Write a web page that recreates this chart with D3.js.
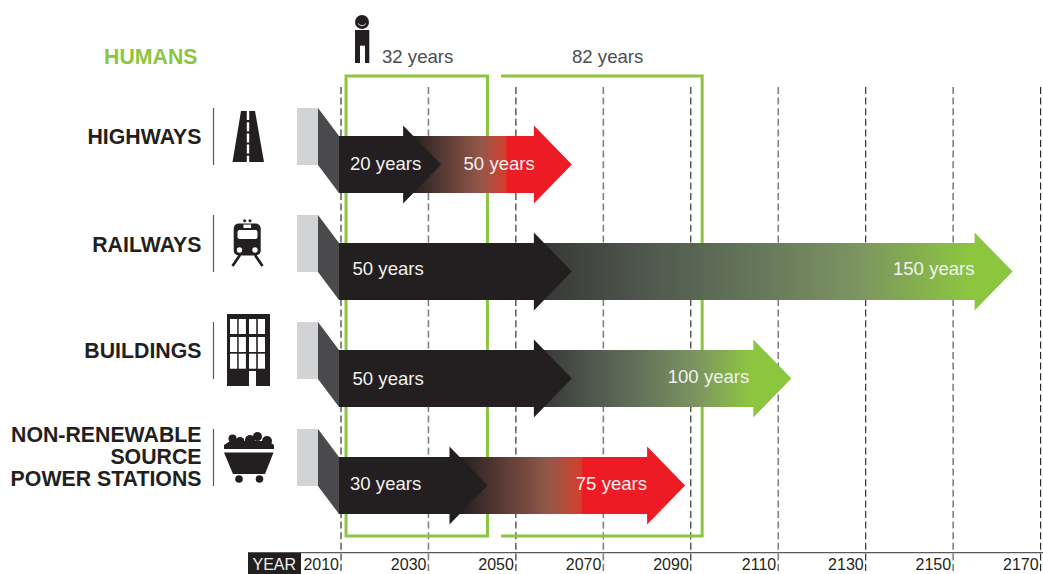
<!DOCTYPE html>
<html><head><meta charset="utf-8">
<script src="https://cdn.jsdelivr.net/npm/d3@7/dist/d3.min.js"></script>
<style>html,body{margin:0;padding:0;background:#fff}svg{display:block}text{font-family:"Liberation Sans",Arial,sans-serif}</style>
</head><body><div id="c"></div>
<script>
// ---- data ----
const categories = ["HIGHWAYS","RAILWAYS","BUILDINGS","NON-RENEWABLE"];
const shortLife = [20,50,50,30];            // labelled years, dark arrow
const longLife  = [50,150,100,75];          // labelled years, coloured arrow
const shortTipYear = [2032.9,2062.8,2062.8,2043.5];
const longTipYear  = [2062.8,2163.6,2113,2088.7];
const fadeEndYear  = [2048,2154,2103.8,2065.3];
const fadeStartYear= [2026,2052,2054,2037];
const tipColors = ["#ed1c24","#8cc63f","#8cc63f","#ed1c24"];
const axisYears = [2010,2030,2050,2070,2090,2110,2130,2150,2170];
const humanSpans = [{label:"32 years",from:2011.15,to:2043.5},{label:"82 years",from:2046.6,to:2092.6}];
// ---- layout ----
const W=1043,H=574,black="#231f20",green="#8cc63f";
const x=d3.scaleLinear().domain([2010,2170]).range([341,1040.6]);
const y=d3.scalePoint().domain(categories).range([164.5,485.5]);
const svg=d3.select("#c").append("svg").attr("width",W).attr("height",H).attr("viewBox",`0 0 ${W} ${H}`);
const defs=svg.append("defs");

// grid
svg.append("g").selectAll("line").data(axisYears).join("line")
 .attr("x1",d=>x(d)).attr("x2",d=>x(d)).attr("y1",87).attr("y2",574)
 .attr("stroke",(d,i)=>i%2?"#808285":black)
 .attr("stroke-width",(d,i)=>i%2?1.6:1.1)
 .attr("stroke-dasharray","7 3.6");

// human frames
const fTop=76,fBot=536;
svg.append("path").attr("fill","none").attr("stroke",green).attr("stroke-width",3)
 .attr("d",`M${x(humanSpans[0].from)},${fTop}H${x(humanSpans[0].to)}V${fBot}H${x(humanSpans[0].from)}Z`);
svg.append("path").attr("fill","none").attr("stroke",green).attr("stroke-width",3)
 .attr("d",`M${x(humanSpans[1].from)},${fTop}H${x(humanSpans[1].to)}V${fBot}H${x(humanSpans[1].from)}`);
svg.append("g").selectAll("text").data(humanSpans).join("text")
 .attr("x",(d,i)=>[382,572][i]).attr("y",63).attr("font-size",18.6).attr("fill","#4d4d4f").text(d=>d.label);
svg.append("text").attr("x",197.5).attr("y",64).attr("text-anchor","end").attr("font-size",21.3).attr("font-weight","bold").attr("fill",green).text("HUMANS");

// arrows
const bodyStart=339,headLen=38,bodyHalf=28.5,headHalf=39;
const arrow=(cy,tip)=>`M${bodyStart},${cy-bodyHalf}H${tip-headLen}V${cy-headHalf}L${tip},${cy}L${tip-headLen},${cy+headHalf}V${cy+bodyHalf}H${bodyStart}Z`;
categories.forEach((c,i)=>{
  const cy=y(c),top=cy-56.5;
  const g=svg.append("g");
  g.append("rect").attr("x",297).attr("y",top).attr("width",21).attr("height",57).attr("fill","#d1d3d4");
  g.append("path").attr("fill","#4a4a4c").attr("d",`M318,${top}L${bodyStart},${cy-bodyHalf}V${cy+bodyHalf}L318,${top+57}Z`);
  const grad=defs.append("linearGradient").attr("id","g"+i).attr("gradientUnits","userSpaceOnUse")
    .attr("x1",x(fadeStartYear[i])).attr("x2",x(fadeEndYear[i])).attr("y1",0).attr("y2",0);
  const red=tipColors[i]==="#ed1c24";
  grad.append("stop").attr("offset",0).attr("stop-color",red?black:"#333331");
  if(red){
    grad.append("stop").attr("offset",.72).attr("stop-color","#93584a");
    grad.append("stop").attr("offset",.985).attr("stop-color","#d43f2d");
  } else {
    grad.append("stop").attr("offset",.25).attr("stop-color","#4d554c");
    grad.append("stop").attr("offset",.5).attr("stop-color","#64745a");
    grad.append("stop").attr("offset",.75).attr("stop-color","#7c9560");
  }
  grad.append("stop").attr("offset",1).attr("stop-color",tipColors[i]);
  g.append("path").attr("fill",`url(#g${i})`).attr("d",arrow(cy,x(longTipYear[i])));
  g.append("path").attr("fill",black).attr("d",arrow(cy,x(shortTipYear[i])));
  g.append("text").attr("x",[350,352.5,352.5,350][i]).attr("y",[169.5,275,384.5,489.7][i]).attr("font-size",18.6).attr("fill","#f1f1f2").text(shortLife[i]+" years");
  g.append("text").attr("x",x(longTipYear[i])-[37,38,42,38][i]).attr("y",[169.5,275,383,489.7][i]).attr("text-anchor","end").attr("font-size",18.6).attr("fill","#f1f1f2").text(longLife[i]+" years");
  // separator
  g.append("line").attr("x1",213.5).attr("x2",213.5).attr("y1",top).attr("y2",top+57).attr("stroke","#58595b").attr("stroke-width",1.2);
});

// category labels
const catText=(t,yy)=>svg.append("text").attr("x",201.5).attr("y",yy).attr("text-anchor","end").attr("font-size",21.3).attr("font-weight","bold").attr("fill",black).text(t);
catText(categories[0],144);catText(categories[1],252);catText(categories[2],358);
catText("NON-RENEWABLE",442);catText("SOURCE",463.5);catText("POWER STATIONS",486);

// icons
const ic=svg.append("g").attr("fill",black);
// road
ic.append("path").attr("d","M241,111H255L264,162H232.5Z");
ic.append("line").attr("x1",248).attr("x2",248).attr("y1",111).attr("y2",162).attr("stroke","#fff").attr("stroke-width",2.4).attr("stroke-dasharray","9 2.2");
// train
ic.append("rect").attr("x",233.7).attr("y",223.5).attr("width",27).attr("height",32).attr("rx",5);
ic.append("rect").attr("x",237.5).attr("y",230).attr("width",20).attr("height",9).attr("rx",2).attr("fill","#fff");
ic.append("rect").attr("x",243.5).attr("y",224.6).attr("width",7.5).attr("height",3.4).attr("fill","#fff");
[244.7,250].forEach(cx=>ic.append("circle").attr("cx",cx).attr("cy",220.7).attr("r",1.5));
[239.5,255].forEach(cx=>ic.append("circle").attr("cx",cx).attr("cy",250).attr("r",2.7).attr("fill","#fff"));
[[240,232.5],[255,262.5]].forEach(p=>ic.append("line").attr("x1",p[0]).attr("y1",255).attr("x2",p[1]).attr("y2",266).attr("stroke",black).attr("stroke-width",2.7));
// building
ic.append("rect").attr("x",227).attr("y",314).attr("width",43).attr("height",72);
[230,238.7,249,257.8].forEach(wx=>[319,337,353.7].forEach(wy=>ic.append("rect").attr("x",wx).attr("y",wy).attr("width",7.2).attr("height",15).attr("fill","#fff")));
ic.append("rect").attr("x",249).attr("y",371).attr("width",7).attr("height",15).attr("fill","#fff");
// coal
[[232.5,438.5,4],[240,441.5,4.5],[250,440,5],[257.5,436.5,4.5],[267,441,5]].forEach(p=>ic.append("circle").attr("cx",p[0]).attr("cy",p[1]).attr("r",p[2]));
ic.append("path").attr("d","M224,449V445L230,441H268L274,445V449Z");
ic.append("path").attr("d","M224,452.5H273.5L265,474H233Z");
[239,259.5].forEach(cx=>ic.append("circle").attr("cx",cx).attr("cy",479).attr("r",3.8));
// person
ic.append("circle").attr("cx",362).attr("cy",22).attr("r",7);
ic.append("path").attr("d","M358,23.5Q362,28 366,23.5").attr("fill","none").attr("stroke","#fff").attr("stroke-width",.8);
ic.append("rect").attr("x",355).attr("y",30).attr("width",14.3).attr("height",33);
ic.append("rect").attr("x",360).attr("y",45.7).attr("width",5).attr("height",17.3).attr("fill","#fff");

// axis
const ax=svg.append("g").attr("transform","translate(0,553)")
 .call(d3.axisBottom(x).tickValues(axisYears).tickFormat(d3.format("d")).tickSize(0));
ax.select(".domain").remove();
ax.selectAll("text").attr("text-anchor","end").attr("dx",-2.5).attr("y",0).attr("dy",17).attr("font-size",16).attr("font-family",'"Liberation Sans",Arial,sans-serif').attr("fill","#231f20");
svg.append("line").attr("x1",248).attr("x2",1043).attr("y1",552.7).attr("y2",552.7).attr("stroke","#58595b").attr("stroke-width",1.2);
svg.append("rect").attr("x",248).attr("y",553).attr("width",53).attr("height",21).attr("fill",black);
svg.append("text").attr("x",252.5).attr("y",570).attr("font-size",16).attr("fill","#f1f1f2").text("YEAR");
</script></body></html>
